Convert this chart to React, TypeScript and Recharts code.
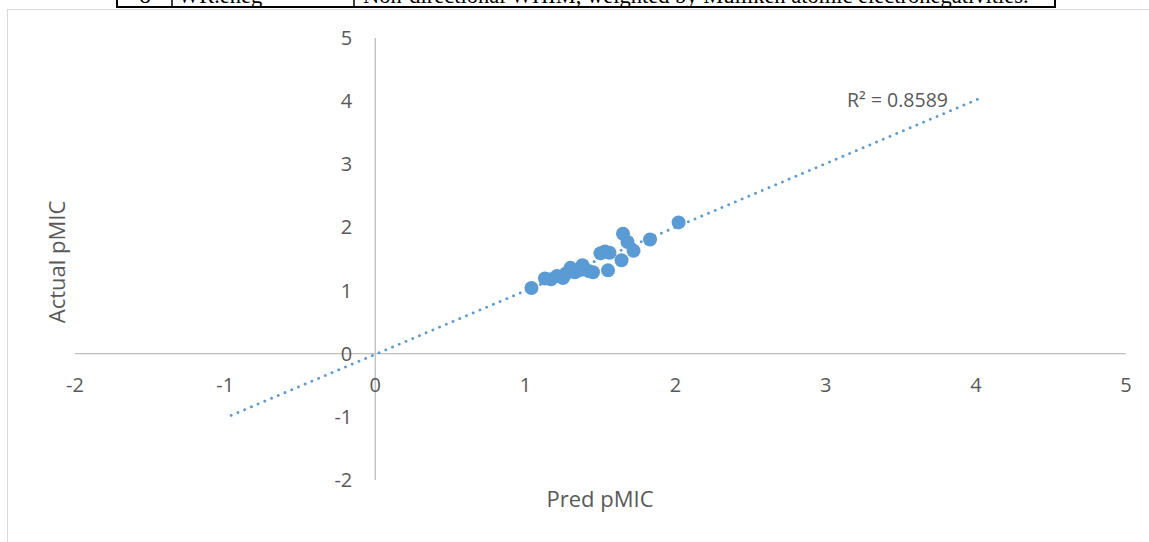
import React from 'react';
import { ScatterChart, Scatter, XAxis, YAxis, ReferenceLine } from 'recharts';

// ---- data ----
const predPMIC = [1.04, 1.13, 1.17, 1.21, 1.25, 1.27, 1.30, 1.33, 1.37, 1.38, 1.42, 1.45, 1.50, 1.53, 1.55, 1.56, 1.64, 1.65, 1.68, 1.72, 1.83, 2.02];
const actualPMIC = [1.04, 1.19, 1.18, 1.23, 1.20, 1.27, 1.36, 1.29, 1.33, 1.40, 1.31, 1.29, 1.59, 1.62, 1.32, 1.60, 1.48, 1.90, 1.77, 1.63, 1.81, 2.08];
const xTicks = [-2, -1, 0, 1, 2, 3, 4, 5];
const yTicks = [-2, -1, 0, 1, 2, 3, 4, 5];
const trendSlope = 1.007;
const trendIntercept = -0.01;
const trendRange = [-0.96, 4.02];
const r2Label = 'R² = 0.8589';
const xTitle = 'Pred pMIC';
const yTitle = 'Actual pMIC';
const tableCells = ['8', 'WR.eneg', 'Non-directional WHIM, weighted by Mulliken atomic electronegativities.'];

// ---- layout ----
const W = 1149;
const H = 542;
const X_MIN = -2, X_MAX = 5, Y_MIN = -2, Y_MAX = 5;
const X_AXIS_H = 30;
const Y_AXIS_W = 30;
const margin = { top: 38, right: 23, bottom: 62 - X_AXIS_H, left: 75 - Y_AXIS_W };
const plotW = W - 75 - margin.right;
const plotH = H - margin.top - 62;
const BLUE = '#5B9BD5';
const AXIS = '#BFBFBF';
const TEXT = '#595959';
const FONT = '"Open Sans", "Noto Sans", sans-serif';

const points = predPMIC.map((x, i) => ({ x, y: actualPMIC[i] }));
const trend = trendRange.map((x) => ({ x, y: trendSlope * x + trendIntercept }));

const renderXTick = (props: any) => {
  const { x, y, payload } = props;
  const zeroY = y - ((0 - Y_MIN) / (Y_MAX - Y_MIN)) * plotH;
  return (
    <text key={`xt-${payload.value}`} x={x} y={zeroY + 38} textAnchor="middle" fill={TEXT} fontSize={20} fontFamily={FONT}>
      {payload.value}
    </text>
  );
};

const renderYTick = (props: any) => {
  const { x, y, payload } = props;
  const zeroX = x + ((0 - X_MIN) / (X_MAX - X_MIN)) * plotW;
  return (
    <text key={`yt-${payload.value}`} x={zeroX - 23} y={y + 7} textAnchor="end" fill={TEXT} fontSize={20} fontFamily={FONT}>
      {payload.value}
    </text>
  );
};

const Dot = (props: any) => <circle cx={props.cx} cy={props.cy} r={7} fill={BLUE} />;
const NoDot = () => <g />;

export default function App() {
  return (
    <div style={{ position: 'fixed', left: 0, top: 0, width: W, height: H, background: '#fff', overflow: 'hidden' }}>
      {/* clipped table row above the chart */}
      <svg width={W} height={12} style={{ position: 'absolute', left: 0, top: 0 }}>
        <line x1={117} y1={7} x2={1056} y2={7} stroke="#000" strokeWidth={2} />
        <line x1={117} y1={0} x2={117} y2={8} stroke="#000" strokeWidth={2} />
        <line x1={172} y1={0} x2={172} y2={8} stroke="#000" strokeWidth={1.5} />
        <line x1={354} y1={0} x2={354} y2={8} stroke="#000" strokeWidth={1.5} />
        <line x1={1055} y1={0} x2={1055} y2={8} stroke="#000" strokeWidth={2} />
        <text x={145} y={2.5} textAnchor="middle" fontFamily='"Liberation Serif", serif' fontSize={22.5}>{tableCells[0]}</text>
        <text x={178} y={2.5} fontFamily='"Liberation Serif", serif' fontSize={22.5}>{tableCells[1]}</text>
        <text x={363} y={2.5} fontFamily='"Liberation Serif", serif' fontSize={22.5}>{tableCells[2]}</text>
      </svg>
      {/* chart frame */}
      <div style={{ position: 'absolute', left: 7, top: 9, width: 1400, height: 800, borderLeft: '1.5px solid #D9D9D9', borderTop: '1.5px solid #D9D9D9' }} />
      <div style={{ position: 'absolute', left: 0, top: 0 }}>
        <ScatterChart width={W} height={H} margin={margin}>
          <XAxis
            type="number"
            dataKey="x"
            domain={[X_MIN, X_MAX]}
            ticks={xTicks}
            allowDataOverflow
            axisLine={false}
            tickLine={false}
            tickSize={0}
            tickMargin={0}
            height={X_AXIS_H}
            interval={0}
            tick={renderXTick}
          />
          <YAxis
            type="number"
            dataKey="y"
            domain={[Y_MIN, Y_MAX]}
            ticks={yTicks}
            allowDataOverflow
            axisLine={false}
            tickLine={false}
            tickSize={0}
            tickMargin={0}
            width={Y_AXIS_W}
            interval={0}
            tick={renderYTick}
          />
          <ReferenceLine y={0} stroke={AXIS} strokeWidth={1.3} />
          <ReferenceLine x={0} stroke={AXIS} strokeWidth={1.3} />
          <Scatter
            data={trend}
            shape={<NoDot />}
            line={{ stroke: BLUE, strokeWidth: 2.8, strokeDasharray: '0.1 7.2', strokeLinecap: 'round' }}
            isAnimationActive={false}
          />
          <Scatter data={points} shape={<Dot />} isAnimationActive={false} />
        </ScatterChart>
      </div>
      <svg width={W} height={H} style={{ position: 'absolute', left: 0, top: 0, pointerEvents: 'none' }}>
        <text x={847} y={107} fill={TEXT} fontSize={19.5} fontFamily={FONT}>{r2Label}</text>
        <text x={600} y={507} textAnchor="middle" fill={TEXT} fontSize={22} fontFamily={FONT}>{xTitle}</text>
        <text x={0} y={0} transform="translate(65,262) rotate(-90)" textAnchor="middle" fill={TEXT} fontSize={22} fontFamily={FONT}>{yTitle}</text>
      </svg>
    </div>
  );
}
